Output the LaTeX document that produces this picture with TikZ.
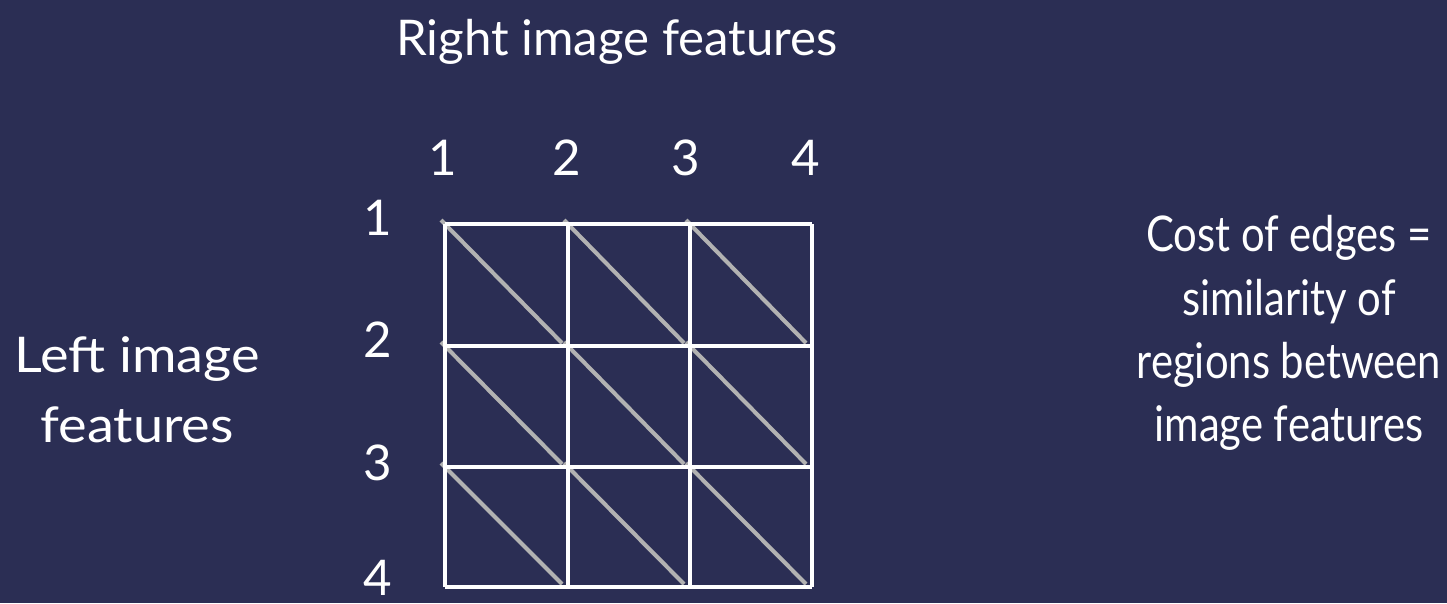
\documentclass[tikz,border=0pt]{standalone}
\usepackage{fontspec}
\setmainfont{Lato}
\newfontfamily\notefont[FakeStretch=0.85]{Lato}
\newfontfamily\sidefont[FakeStretch=1.1]{Lato}
\usepackage{xcolor}
\definecolor{slidebg}{RGB}{43,46,84}
\definecolor{diaggray}{RGB}{178,178,178}

\begin{document}
\begin{tikzpicture}[
x=0.02cm, y=-0.02cm,
% Style for the text labels
label text/.style={
text=white,
font=\fontsize{28}{35}\selectfont,
inner sep=0pt
},
% Style for the grid lines
grid line/.style={
draw=white,
line width=2.8pt
},
% Style for the diagonal edges
diag line/.style={
draw=diaggray,
line width=2.3pt
}
]

\fill[slidebg] (0,0) rectangle (1447,603);
\useasboundingbox (0,0) rectangle (1447,603);

% Grid corners (row i, column j)
\foreach \i/\y in {1/224,2/346,3/467,4/587} {
\foreach \j/\x in {1/445,2/568,3/690,4/812} {
\coordinate (p\i\j) at (\x,\y);
}
}

% Diagonal edges, drawn under the grid
\foreach \i/\k in {1/2,2/3,3/4} {
\foreach \j/\l in {1/2,2/3,3/4} {
\draw[diag line] ([shift={(-4,-4)}]p\i\j) -- ([shift={(-6,-3)}]p\k\l);
}
}

% Grid lines
\foreach \i in {1,...,4} {
\draw[grid line] (p\i1) -- (p\i4);
\draw[grid line] (p1\i) -- (p4\i);
}

% Column and row numbers
\foreach \j/\x in {1/443,2/567,3/686,4/806} {
\node[label text] (c\j) at (\x,158) {\j};
}
\foreach \i/\y in {1/218,2/340,3/463,4/578} {
\node[label text] (r\i) at (378,\y) {\i};
}

% Axis titles and note
\node[label text] (top) at (617,42) {Right image features};
\node[label text, align=center, font=\fontsize{28}{40}\sidefont] (left) at (137,390) {Left image\\features};
\node[label text, align=center, font=\fontsize{28}{36}\notefont] (note) at (1289,333) {Cost of edges =\\similarity of\\regions between\\image features};

\end{tikzpicture}
\end{document}
